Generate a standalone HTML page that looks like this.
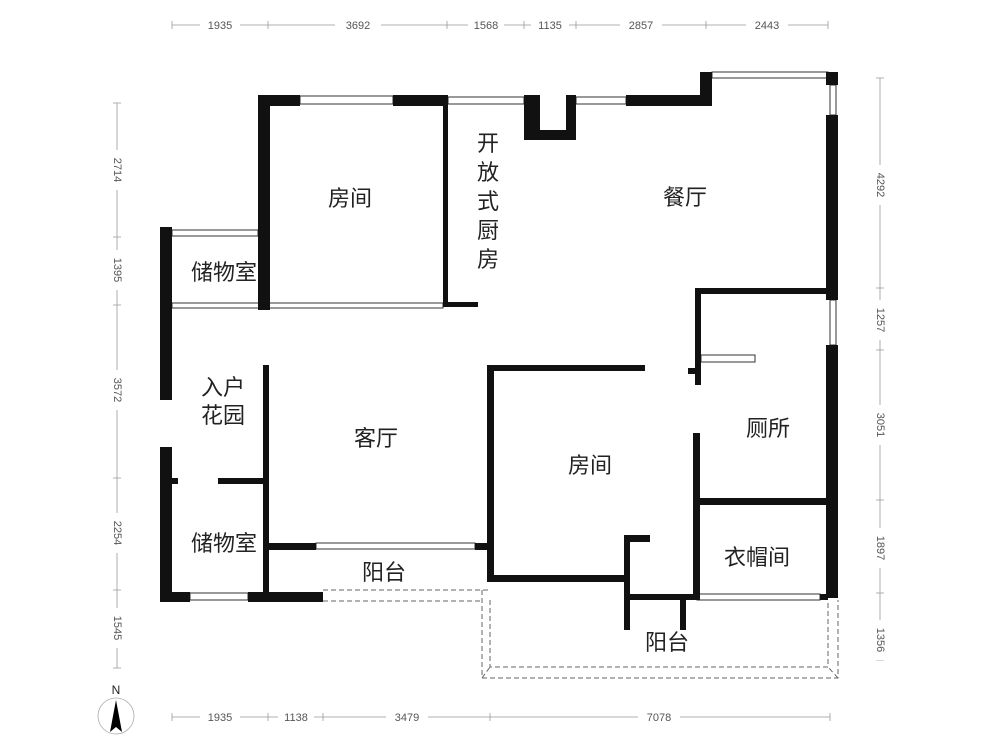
<!DOCTYPE html>
<html><head><meta charset="utf-8"><style>
html,body{margin:0;padding:0;background:#fff}
svg{display:block}
.t{font-family:"Liberation Sans","Noto Sans CJK SC",sans-serif;font-size:22px;fill:#222;text-anchor:middle}
.d{font-family:"Liberation Sans",sans-serif;font-size:11px;fill:#555;text-anchor:middle;dominant-baseline:middle}
.dl{stroke:#999;stroke-width:0.8;fill:none}
.w{fill:#111}
.win{fill:#fff;stroke:#333;stroke-width:1}
.da{stroke:#666;stroke-width:1;stroke-dasharray:5,3;fill:none}
</style></head><body>
<svg width="1000" height="750" viewBox="0 0 1000 750" xmlns="http://www.w3.org/2000/svg">
<!-- top dims -->
<g>
<line class="dl" x1="172" y1="25" x2="828" y2="25"/>
<g class="dl">
<path d="M172 21v8M268 21v8M447 21v8M524 21v8M576 21v8M706 21v8M828 21v8"/>
</g>
<g fill="#fff">
<rect x="200" y="18" width="40" height="14"/><rect x="335" y="18" width="46" height="14"/><rect x="468" y="18" width="36" height="14"/><rect x="531" y="18" width="38" height="14"/><rect x="620" y="18" width="42" height="14"/><rect x="746" y="18" width="42" height="14"/>
</g>
<text class="d" x="220" y="26">1935</text><text class="d" x="358" y="26">3692</text><text class="d" x="486" y="26">1568</text><text class="d" x="550" y="26">1135</text><text class="d" x="641" y="26">2857</text><text class="d" x="767" y="26">2443</text>
</g>
<!-- bottom dims -->
<g>
<line class="dl" x1="172" y1="717" x2="830" y2="717"/>
<path class="dl" d="M172 713v8M268 713v8M323 713v8M490 713v8M830 713v8"/>
<g fill="#fff"><rect x="200" y="710" width="40" height="14"/><rect x="278" y="710" width="36" height="14"/><rect x="386" y="710" width="42" height="14"/><rect x="638" y="710" width="42" height="14"/></g>
<text class="d" x="220" y="718">1935</text><text class="d" x="296" y="718">1138</text><text class="d" x="407" y="718">3479</text><text class="d" x="659" y="718">7078</text>
</g>
<!-- left dims -->
<g>
<line class="dl" x1="117" y1="103" x2="117" y2="668"/>
<path class="dl" d="M113 103h8M113 237h8M113 305h8M113 478h8M113 590h8M113 668h8"/>
<g fill="#fff"><rect x="110" y="150" width="14" height="40"/><rect x="110" y="250" width="14" height="40"/><rect x="110" y="370" width="14" height="40"/><rect x="110" y="513" width="14" height="40"/><rect x="110" y="608" width="14" height="40"/></g>
<text class="d" transform="translate(117,170) rotate(90)">2714</text>
<text class="d" transform="translate(117,270) rotate(90)">1395</text>
<text class="d" transform="translate(117,390) rotate(90)">3572</text>
<text class="d" transform="translate(117,533) rotate(90)">2254</text>
<text class="d" transform="translate(117,628) rotate(90)">1545</text>
</g>
<!-- right dims -->
<g>
<line class="dl" x1="880" y1="78" x2="880" y2="660"/>
<path class="dl" d="M876 78h8M876 288h8M876 350h8M876 500h8M876 593h8M876 660h8"/>
<g fill="#fff"><rect x="873" y="165" width="14" height="40"/><rect x="873" y="300" width="14" height="40"/><rect x="873" y="405" width="14" height="40"/><rect x="873" y="528" width="14" height="40"/><rect x="873" y="620" width="14" height="40"/></g>
<text class="d" transform="translate(880,185) rotate(90)">4292</text>
<text class="d" transform="translate(880,320) rotate(90)">1257</text>
<text class="d" transform="translate(880,425) rotate(90)">3051</text>
<text class="d" transform="translate(880,548) rotate(90)">1897</text>
<text class="d" transform="translate(880,640) rotate(90)">1356</text>
</g>
<!-- dashed balconies -->
<path class="da" d="M323 590H490M323 601H482"/>
<path class="da" d="M482 590V678H838V600M490 600V667H828V600M482 678L490 667M838 678L828 667"/>
<!-- windows -->
<rect class="win" x="300" y="96" width="93" height="8"/>
<rect class="win" x="448" y="97" width="76" height="7"/>
<rect class="win" x="576" y="97" width="50" height="7"/>
<rect class="win" x="712" y="72" width="116" height="6"/>
<rect class="win" x="830" y="85" width="6" height="30"/>
<rect class="win" x="830" y="300" width="6" height="45"/>
<rect class="win" x="172" y="230" width="86" height="6"/>
<rect class="win" x="172" y="303" width="271" height="5"/>
<rect class="win" x="190" y="593" width="58" height="7"/>
<rect class="win" x="316" y="543" width="159" height="6"/>
<rect class="win" x="697" y="594" width="123" height="6"/>
<rect class="win" x="701" y="355" width="54" height="7"/>
<!-- walls -->
<g class="w">
<rect x="258" y="95" width="42" height="11"/>
<rect x="393" y="95" width="55" height="11"/>
<rect x="524" y="95" width="16" height="45"/>
<rect x="524" y="130" width="52" height="10"/>
<rect x="566" y="95" width="10" height="45"/>
<rect x="626" y="95" width="84" height="11"/>
<rect x="700" y="72" width="12" height="34"/>
<rect x="826" y="72" width="12" height="13"/>
<rect x="826" y="115" width="12" height="185"/>
<rect x="826" y="345" width="12" height="253"/>
<rect x="258" y="95" width="12" height="215"/>
<rect x="443" y="106" width="5" height="200"/>
<rect x="443" y="302" width="35" height="5"/>
<rect x="160" y="227" width="12" height="173"/>
<rect x="160" y="447" width="12" height="155"/>
<rect x="172" y="478" width="6" height="6"/>
<rect x="218" y="478" width="47" height="6"/>
<rect x="263" y="365" width="6" height="237"/>
<rect x="160" y="592" width="30" height="10"/>
<rect x="248" y="592" width="75" height="10"/>
<rect x="269" y="543" width="47" height="7"/>
<rect x="475" y="543" width="15" height="7"/>
<rect x="487" y="365" width="158" height="6"/>
<rect x="487" y="365" width="7" height="217"/>
<rect x="487" y="575" width="137" height="7"/>
<rect x="624" y="535" width="6" height="95"/>
<rect x="624" y="535" width="26" height="7"/>
<rect x="630" y="594" width="67" height="6"/>
<rect x="680" y="600" width="6" height="30"/>
<rect x="820" y="594" width="8" height="6"/>
<rect x="695" y="288" width="143" height="6"/>
<rect x="695" y="288" width="6" height="97"/>
<rect x="688" y="368" width="10" height="6"/>
<rect x="693" y="433" width="7" height="167"/>
<rect x="700" y="498" width="126" height="7"/>
</g>
<!-- labels -->
<text class="t" x="350" y="206">房间</text>
<g class="t"><text class="t" x="488" y="151">开</text><text class="t" x="488" y="180">放</text><text class="t" x="488" y="209">式</text><text class="t" x="488" y="238">厨</text><text class="t" x="488" y="267">房</text></g>
<text class="t" x="685" y="205">餐厅</text>
<text class="t" x="224" y="280">储物室</text>
<text class="t" x="223" y="395">入户</text>
<text class="t" x="223" y="423">花园</text>
<text class="t" x="376" y="446">客厅</text>
<text class="t" x="590" y="473">房间</text>
<text class="t" x="768" y="436">厕所</text>
<text class="t" x="224" y="551">储物室</text>
<text class="t" x="757" y="565">衣帽间</text>
<text class="t" x="384" y="580">阳台</text>
<text class="t" x="667" y="650">阳台</text>
<!-- north -->
<text x="116" y="694" font-family="Liberation Sans,sans-serif" font-size="12" fill="#222" text-anchor="middle">N</text>
<circle cx="116" cy="716" r="18" fill="none" stroke="#aaa" stroke-width="0.8"/>
<path d="M116 700L110 732L116 727L122 732Z" fill="#000"/>
</svg>
</body></html>
